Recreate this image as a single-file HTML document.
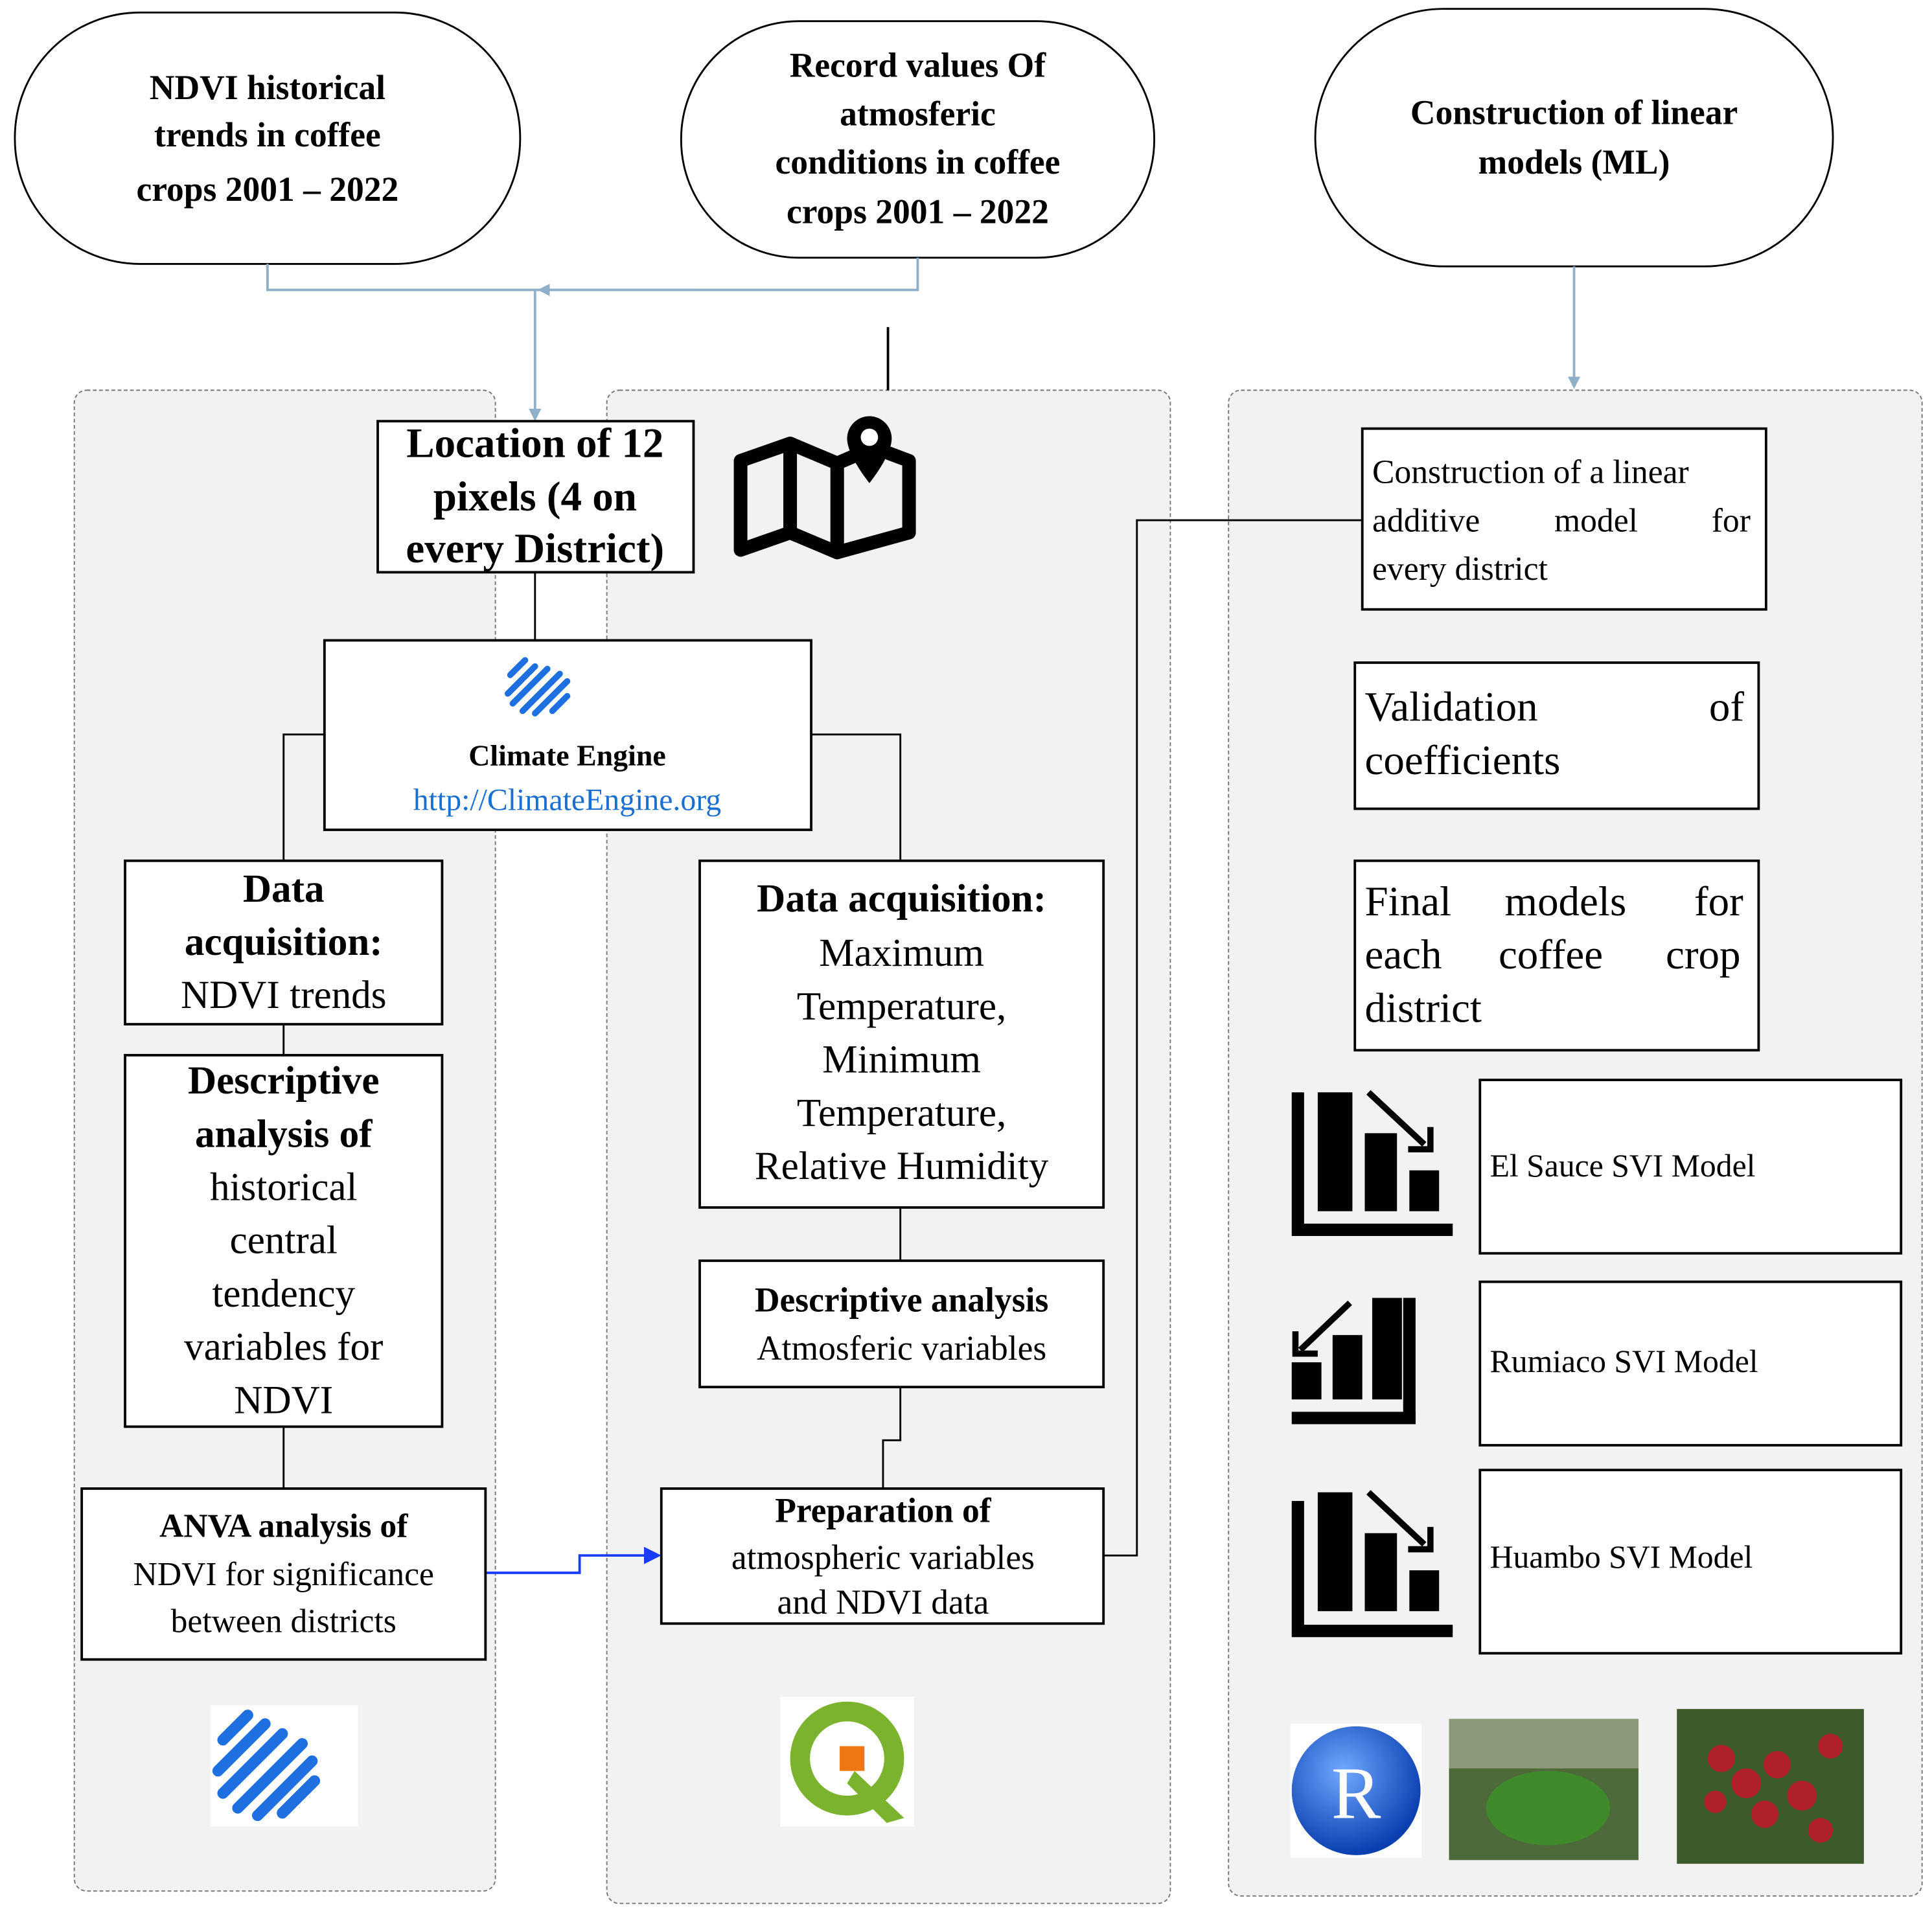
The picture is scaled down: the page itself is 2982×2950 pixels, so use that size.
<!DOCTYPE html>
<html><head><meta charset="utf-8"><style>
html,body{margin:0;padding:0;background:#fff}
svg{display:block}
text{font-family:"Liberation Serif",serif;fill:#000}
</style></head><body>
<svg width="2982" height="2950" viewBox="0 0 1560 1543" xmlns="http://www.w3.org/2000/svg">
<defs>
<marker id="ab" markerWidth="10" markerHeight="10" refX="8" refY="5" orient="auto" markerUnits="userSpaceOnUse"><path d="M0,0 L10,5 L0,10 z" fill="#8fb0c8"/></marker>
<marker id="abl" markerWidth="14" markerHeight="14" refX="12" refY="7" orient="auto" markerUnits="userSpaceOnUse"><path d="M0,0 L14,7 L0,14 z" fill="#1a3cff"/></marker>
<radialGradient id="rg" cx="40%" cy="35%" r="65%"><stop offset="0" stop-color="#6fa8ff"/><stop offset="1" stop-color="#0a3fb0"/></radialGradient>
</defs>
<rect x="60" y="315" width="340" height="1212" rx="10" fill="#f2f2f2" stroke="#777" stroke-dasharray="3,2"/>
<rect x="490" y="315" width="455" height="1222" rx="10" fill="#f2f2f2" stroke="#777" stroke-dasharray="3,2"/>
<rect x="992" y="315" width="560" height="1216" rx="10" fill="#f2f2f2" stroke="#777" stroke-dasharray="3,2"/>
<rect x="12" y="10" width="408" height="203" rx="101" fill="#fff" stroke="#000" stroke-width="1.5"/>
<rect x="550" y="17" width="382" height="191" rx="95" fill="#fff" stroke="#000" stroke-width="1.5"/>
<rect x="1062" y="7" width="418" height="208" rx="104" fill="#fff" stroke="#000" stroke-width="1.5"/>
<g font-weight="bold" font-size="28" text-anchor="middle">
<text x="216" y="80">NDVI historical</text><text x="216" y="118">trends in coffee</text><text x="216" y="162">crops 2001 –  2022</text>
<text x="741" y="62">Record values Of</text><text x="741" y="101">atmosferic</text><text x="741" y="140">conditions in coffee</text><text x="741" y="180">crops 2001 – 2022</text>
<text x="1271" y="100">Construction of linear</text><text x="1271" y="140">models (ML)</text>
</g>
<g stroke="#8fb0c8" stroke-width="2" fill="none">
<polyline points="216,213 216,234 741,234 741,208"/>
<line x1="560" y1="234" x2="436" y2="234" marker-end="url(#ab)"/>
<line x1="432" y1="234" x2="432" y2="338" marker-end="url(#ab)"/>
<line x1="1271" y1="215" x2="1271" y2="312" marker-end="url(#ab)"/>
</g>
<line x1="717" y1="264" x2="717" y2="315" stroke="#000" stroke-width="2"/>
<g stroke="#000" stroke-width="1.5" fill="none">
<line x1="432" y1="462" x2="432" y2="517"/>
<polyline points="262,593 229,593 229,695"/>
<polyline points="655,593 727,593 727,695"/>
<line x1="229" y1="827" x2="229" y2="852"/>
<line x1="229" y1="1152" x2="229" y2="1202"/>
<line x1="727" y1="975" x2="727" y2="1018"/>
<polyline points="727,1120 727,1163 713,1163 713,1202"/>
<polyline points="891,1256 918,1256 918,420 1100,420"/>
</g>
<polyline points="392,1270 468,1270 468,1256 532,1256" stroke="#1a3cff" stroke-width="2" fill="none" marker-end="url(#abl)"/>
<g fill="#fff" stroke="#000" stroke-width="2">
<rect x="305" y="340" width="255" height="122"/>
<rect x="262" y="517" width="393" height="153"/>
<rect x="101" y="695" width="256" height="132"/>
<rect x="101" y="852" width="256" height="300"/>
<rect x="66" y="1202" width="326" height="138"/>
<rect x="565" y="695" width="326" height="280"/>
<rect x="565" y="1018" width="326" height="102"/>
<rect x="534" y="1202" width="357" height="109"/>
<rect x="1100" y="346" width="326" height="146"/>
<rect x="1094" y="535" width="326" height="118"/>
<rect x="1094" y="695" width="326" height="153"/>
<rect x="1195" y="872" width="340" height="140"/>
<rect x="1195" y="1035" width="340" height="132"/>
<rect x="1195" y="1187" width="340" height="148"/>
</g>
<g text-anchor="middle">
<g font-weight="bold" font-size="34"><text x="432" y="369">Location of 12</text><text x="432" y="412">pixels (4 on</text><text x="432" y="454">every District)</text></g>
<text x="458" y="618" font-weight="bold" font-size="24">Climate Engine</text>
<text x="458" y="654" font-size="25" style="fill:#1a6fd0">http://ClimateEngine.org</text>
<g font-size="32"><text x="229" y="728" font-weight="bold">Data</text><text x="229" y="771" font-weight="bold">acquisition:</text><text x="229" y="814">NDVI trends</text></g>
<g font-size="32"><text x="229" y="883" font-weight="bold">Descriptive</text><text x="229" y="926" font-weight="bold">analysis of</text><text x="229" y="969">historical</text><text x="229" y="1012">central</text><text x="229" y="1055">tendency</text><text x="229" y="1098">variables for</text><text x="229" y="1141">NDVI</text></g>
<g font-size="27"><text x="229" y="1241" font-weight="bold">ANVA analysis of</text><text x="229" y="1280">NDVI for significance</text><text x="229" y="1318">between districts</text></g>
<g font-size="32"><text x="728" y="736" font-weight="bold">Data acquisition:</text><text x="728" y="780">Maximum</text><text x="728" y="823">Temperature,</text><text x="728" y="866">Minimum</text><text x="728" y="909">Temperature,</text><text x="728" y="952">Relative Humidity</text></g>
<g font-size="28"><text x="728" y="1059" font-weight="bold">Descriptive analysis</text><text x="728" y="1098">Atmosferic variables</text></g>
<g font-size="28"><text x="713" y="1229" font-weight="bold">Preparation of</text><text x="713" y="1267">atmospheric variables</text><text x="713" y="1303">and NDVI data</text></g>
</g>
<g font-size="27"><text x="1108" y="390">Construction of a linear</text><text x="1108" y="429">additive</text><text x="1255" y="429">model</text><text x="1382" y="429">for</text><text x="1108" y="468">every district</text></g>
<g font-size="34"><text x="1102" y="582">Validation</text><text x="1380" y="582">of</text><text x="1102" y="625">coefficients</text></g>
<g font-size="34"><text x="1102" y="739">Final</text><text x="1215" y="739">models</text><text x="1368" y="739">for</text><text x="1102" y="782">each</text><text x="1210" y="782">coffee</text><text x="1345" y="782">crop</text><text x="1102" y="825">district</text></g>
<g font-size="26"><text x="1203" y="950">El Sauce SVI Model</text><text x="1203" y="1108">Rumiaco SVI Model</text><text x="1203" y="1266">Huambo SVI Model</text></g>
<!-- map icon -->
<g fill="none" stroke="#000" stroke-width="11" stroke-linejoin="round" stroke-linecap="round">
<path d="M690,368 L676,374 L638,358 L598,372 L598,444 L638,430 L676,446 L734,430 L734,372 L718,366"/>
<line x1="638" y1="358" x2="638" y2="430"/><line x1="676" y1="374" x2="676" y2="446"/>
</g>
<path d="M702,336 a18,18 0 0 1 18,18 c0,14 -18,36 -18,36 c0,0 -18,-22 -18,-36 a18,18 0 0 1 18,-18z" fill="#000"/>
<circle cx="702" cy="353" r="7" fill="#fff"/>
<g stroke="#1e6fe0" stroke-width="5" stroke-linecap="round">
<line x1="412" y1="545" x2="424" y2="533"/><line x1="410" y1="560" x2="432" y2="538"/><line x1="414" y1="568" x2="442" y2="540"/><line x1="422" y1="574" x2="452" y2="544"/><line x1="432" y1="576" x2="458" y2="550"/><line x1="446" y1="574" x2="458" y2="562"/>
</g>
<rect x="170" y="1377" width="119" height="98" fill="#fff"/>
<g stroke="#1e6fe0" stroke-width="9" stroke-linecap="round">
<line x1="180" y1="1405" x2="200" y2="1385"/><line x1="176" y1="1430" x2="214" y2="1392"/><line x1="180" y1="1448" x2="228" y2="1400"/><line x1="192" y1="1460" x2="244" y2="1408"/><line x1="208" y1="1466" x2="252" y2="1422"/><line x1="228" y1="1464" x2="254" y2="1438"/>
</g>
<rect x="630" y="1370" width="108" height="105" fill="#fff"/>
<circle cx="684" cy="1420" r="38" fill="none" stroke="#7bb32e" stroke-width="16"/>
<path d="M690,1430 L730,1468 L716,1472 L684,1440Z" fill="#7bb32e"/>
<path d="M678,1410 L698,1410 L698,1430 L678,1430Z" fill="#ee7913"/>
<g fill="#000">
<path d="M1043,882 h10 v106 h120 v10 h-130z"/>
<rect x="1064" y="882" width="28" height="96"/><rect x="1102" y="915" width="26" height="63"/><rect x="1138" y="945" width="24" height="33"/>
<path d="M1043,1140 h100 v10 h-100z"/><path d="M1133,1048 h10 v102 h-10z"/>
<rect x="1043" y="1100" width="24" height="30"/><rect x="1076" y="1078" width="24" height="52"/><rect x="1108" y="1048" width="24" height="82"/>
<path d="M1043,1212 h10 v100 h120 v10 h-130z"/>
<rect x="1064" y="1205" width="28" height="96"/><rect x="1102" y="1238" width="26" height="63"/><rect x="1138" y="1268" width="24" height="33"/>
</g>
<g stroke="#000" stroke-width="5" fill="none">
<line x1="1105" y1="882" x2="1150" y2="924"/><path d="M1155,910 v18 h-18"/>
<line x1="1090" y1="1052" x2="1050" y2="1090"/><path d="M1046,1075 v18 h18"/>
<line x1="1105" y1="1205" x2="1150" y2="1247"/><path d="M1155,1233 v18 h-18"/>
</g>
<rect x="1042" y="1392" width="106" height="108" fill="#fff"/>
<circle cx="1095" cy="1446" r="52" fill="url(#rg)"/>
<text x="1095" y="1468" font-size="60" text-anchor="middle" style="fill:#fff">R</text>
<rect x="1170" y="1388" width="153" height="114" fill="#4e6a3a"/>
<rect x="1170" y="1388" width="153" height="40" fill="#8a9a7a"/>
<ellipse cx="1250" cy="1460" rx="50" ry="30" fill="#3f8a2a"/>
<rect x="1354" y="1380" width="151" height="125" fill="#3d5a2a"/>
<g fill="#b0202a"><circle cx="1390" cy="1420" r="11"/><circle cx="1410" cy="1440" r="12"/><circle cx="1435" cy="1425" r="11"/><circle cx="1455" cy="1450" r="12"/><circle cx="1478" cy="1410" r="10"/><circle cx="1425" cy="1465" r="11"/><circle cx="1470" cy="1478" r="10"/><circle cx="1385" cy="1455" r="9"/></g>
</svg>
</body></html>
